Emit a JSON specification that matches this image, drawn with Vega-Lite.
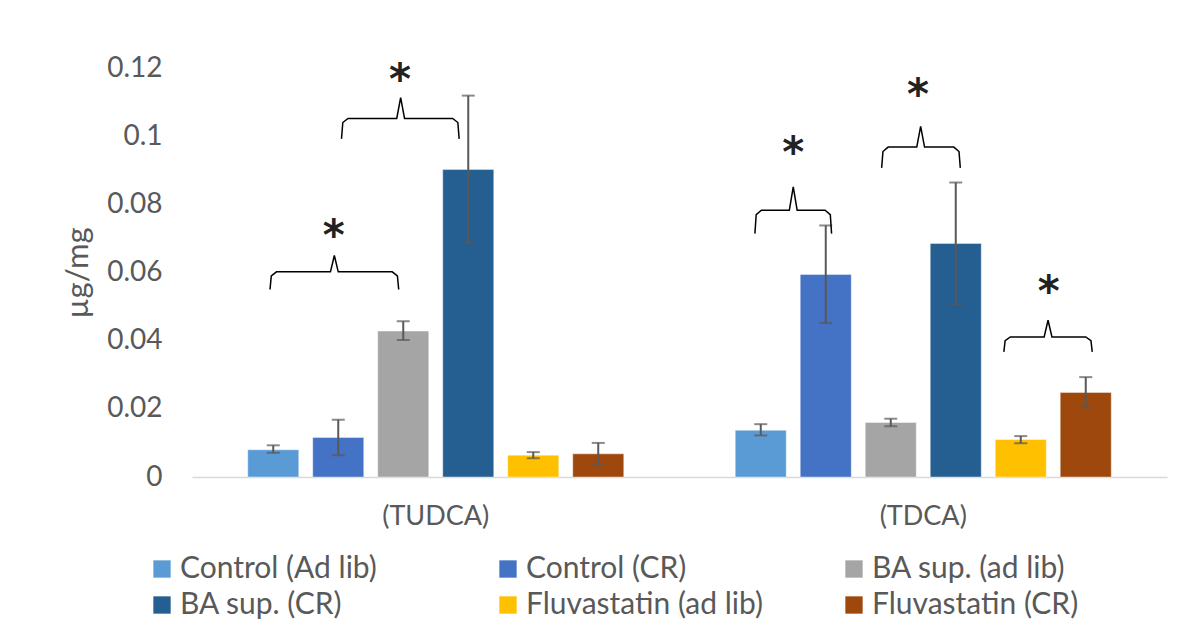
{
  "$schema": "https://vega.github.io/schema/vega-lite/v6.json",
  "autosize": "none",
  "padding": {"left": 192, "top": 68, "right": 33, "bottom": 148},
  "width": 975,
  "height": 409,
  "background": "white",
  "config": {
    "view": {"stroke": null},
    "font": "Lato",
    "axis": {"labelFont": "Lato", "titleFont": "Lato", "labelColor": "#595959", "titleColor": "#595959"},
    "legend": {"labelFont": "Lato"}
  },
  "datasets": {
    "bars": [
      {"group": "(TUDCA)", "series": "Control (Ad lib)", "mean": 0.0080, "lo": 0.0071, "hi": 0.0093},
      {"group": "(TUDCA)", "series": "Control (CR)", "mean": 0.0116, "lo": 0.0064, "hi": 0.0168},
      {"group": "(TUDCA)", "series": "BA sup. (ad lib)", "mean": 0.0428, "lo": 0.0402, "hi": 0.0457},
      {"group": "(TUDCA)", "series": "BA sup. (CR)", "mean": 0.0902, "lo": 0.0686, "hi": 0.1119},
      {"group": "(TUDCA)", "series": "Fluvastatin (ad lib)", "mean": 0.0064, "lo": 0.0055, "hi": 0.0073},
      {"group": "(TUDCA)", "series": "Fluvastatin (CR)", "mean": 0.0068, "lo": 0.0037, "hi": 0.0100},
      {"group": "(TDCA)", "series": "Control (Ad lib)", "mean": 0.0137, "lo": 0.0122, "hi": 0.0155},
      {"group": "(TDCA)", "series": "Control (CR)", "mean": 0.0594, "lo": 0.0452, "hi": 0.0738},
      {"group": "(TDCA)", "series": "BA sup. (ad lib)", "mean": 0.0160, "lo": 0.0149, "hi": 0.0171},
      {"group": "(TDCA)", "series": "BA sup. (CR)", "mean": 0.0685, "lo": 0.0507, "hi": 0.0864},
      {"group": "(TDCA)", "series": "Fluvastatin (ad lib)", "mean": 0.0110, "lo": 0.0099, "hi": 0.0120},
      {"group": "(TDCA)", "series": "Fluvastatin (CR)", "mean": 0.0248, "lo": 0.0205, "hi": 0.0293}
    ],
    "brackets": [
      {"group": "(TUDCA)", "b": "t1", "i": 0, "pos": -0.05, "y": 0.0550},
      {"group": "(TUDCA)", "b": "t1", "i": 1, "pos": -0.03, "y": 0.0590},
      {"group": "(TUDCA)", "b": "t1", "i": 2, "pos": 0.05, "y": 0.0602},
      {"group": "(TUDCA)", "b": "t1", "i": 3, "pos": 0.88, "y": 0.0602},
      {"group": "(TUDCA)", "b": "t1", "i": 4, "pos": 0.94, "y": 0.0650},
      {"group": "(TUDCA)", "b": "t1", "i": 5, "pos": 1.00, "y": 0.0602},
      {"group": "(TUDCA)", "b": "t1", "i": 6, "pos": 1.83, "y": 0.0602},
      {"group": "(TUDCA)", "b": "t1", "i": 7, "pos": 1.91, "y": 0.0590},
      {"group": "(TUDCA)", "b": "t1", "i": 8, "pos": 1.93, "y": 0.0550},
      {"group": "(TUDCA)", "b": "t2", "i": 0, "pos": 1.05, "y": 0.0992},
      {"group": "(TUDCA)", "b": "t2", "i": 1, "pos": 1.07, "y": 0.1040},
      {"group": "(TUDCA)", "b": "t2", "i": 2, "pos": 1.15, "y": 0.1052},
      {"group": "(TUDCA)", "b": "t2", "i": 3, "pos": 1.90, "y": 0.1052},
      {"group": "(TUDCA)", "b": "t2", "i": 4, "pos": 1.96, "y": 0.1113},
      {"group": "(TUDCA)", "b": "t2", "i": 5, "pos": 2.02, "y": 0.1052},
      {"group": "(TUDCA)", "b": "t2", "i": 6, "pos": 2.76, "y": 0.1052},
      {"group": "(TUDCA)", "b": "t2", "i": 7, "pos": 2.84, "y": 0.1040},
      {"group": "(TUDCA)", "b": "t2", "i": 8, "pos": 2.86, "y": 0.0992},
      {"group": "(TDCA)", "b": "d1", "i": 0, "pos": -0.09, "y": 0.0714},
      {"group": "(TDCA)", "b": "d1", "i": 1, "pos": -0.07, "y": 0.0770},
      {"group": "(TDCA)", "b": "d1", "i": 2, "pos": 0.01, "y": 0.0783},
      {"group": "(TDCA)", "b": "d1", "i": 3, "pos": 0.44, "y": 0.0783},
      {"group": "(TDCA)", "b": "d1", "i": 4, "pos": 0.50, "y": 0.0851},
      {"group": "(TDCA)", "b": "d1", "i": 5, "pos": 0.56, "y": 0.0783},
      {"group": "(TDCA)", "b": "d1", "i": 6, "pos": 0.99, "y": 0.0783},
      {"group": "(TDCA)", "b": "d1", "i": 7, "pos": 1.07, "y": 0.0770},
      {"group": "(TDCA)", "b": "d1", "i": 8, "pos": 1.09, "y": 0.0714},
      {"group": "(TDCA)", "b": "d2", "i": 0, "pos": 1.86, "y": 0.0907},
      {"group": "(TDCA)", "b": "d2", "i": 1, "pos": 1.88, "y": 0.0955},
      {"group": "(TDCA)", "b": "d2", "i": 2, "pos": 1.96, "y": 0.0968},
      {"group": "(TDCA)", "b": "d2", "i": 3, "pos": 2.40, "y": 0.0968},
      {"group": "(TDCA)", "b": "d2", "i": 4, "pos": 2.46, "y": 0.1029},
      {"group": "(TDCA)", "b": "d2", "i": 5, "pos": 2.52, "y": 0.0968},
      {"group": "(TDCA)", "b": "d2", "i": 6, "pos": 2.97, "y": 0.0968},
      {"group": "(TDCA)", "b": "d2", "i": 7, "pos": 3.05, "y": 0.0955},
      {"group": "(TDCA)", "b": "d2", "i": 8, "pos": 3.07, "y": 0.0907},
      {"group": "(TDCA)", "b": "d3", "i": 0, "pos": 3.74, "y": 0.0367},
      {"group": "(TDCA)", "b": "d3", "i": 1, "pos": 3.76, "y": 0.0400},
      {"group": "(TDCA)", "b": "d3", "i": 2, "pos": 3.84, "y": 0.0411},
      {"group": "(TDCA)", "b": "d3", "i": 3, "pos": 4.36, "y": 0.0411},
      {"group": "(TDCA)", "b": "d3", "i": 4, "pos": 4.42, "y": 0.0460},
      {"group": "(TDCA)", "b": "d3", "i": 5, "pos": 4.48, "y": 0.0411},
      {"group": "(TDCA)", "b": "d3", "i": 6, "pos": 5.00, "y": 0.0411},
      {"group": "(TDCA)", "b": "d3", "i": 7, "pos": 5.08, "y": 0.0400},
      {"group": "(TDCA)", "b": "d3", "i": 8, "pos": 5.10, "y": 0.0367}
    ],
    "stars": [
      {"group": "(TUDCA)", "pos": 0.93, "y": 0.0727, "label": "*"},
      {"group": "(TUDCA)", "pos": 1.95, "y": 0.1184, "label": "*"},
      {"group": "(TDCA)", "pos": 0.50, "y": 0.0970, "label": "*"},
      {"group": "(TDCA)", "pos": 2.42, "y": 0.1140, "label": "*"},
      {"group": "(TDCA)", "pos": 4.43, "y": 0.0562, "label": "*"}
    ]
  },
  "resolve": {"scale": {"xOffset": "independent"}},
  "layer": [
    {
      "data": {"name": "bars"},
      "mark": {"type": "bar", "stroke": "white", "strokeWidth": 1, "strokeOpacity": 0.4},
      "encoding": {
        "x": {"field": "group", "type": "nominal", "sort": ["(TUDCA)", "(TDCA)"],
              "scale": {"paddingInner": 0.2, "paddingOuter": 0.1},
              "axis": {"title": null, "labelAngle": 0, "ticks": false, "domainColor": "#D9D9D9", "domainWidth": 1.5,
                       "labelFontSize": 27, "labelPadding": 26}},
        "xOffset": {"field": "series", "type": "nominal",
                    "sort": ["Control (Ad lib)", "Control (CR)", "BA sup. (ad lib)", "BA sup. (CR)", "Fluvastatin (ad lib)", "Fluvastatin (CR)"],
                    "scale": {"paddingInner": 0.215, "paddingOuter": 0.1075}},
        "y": {"field": "mean", "type": "quantitative",
              "scale": {"domain": [0, 0.12], "nice": false},
              "axis": {"title": "µg/mg", "values": [0, 0.02, 0.04, 0.06, 0.08, 0.1, 0.12], "grid": false, "domain": false, "ticks": false,
                       "labelFontSize": 28, "labelPadding": 30, "titleFontSize": 31, "titleFontWeight": "normal", "titlePadding": 12,
                       "labelExpr": "datum.value === 0 ? '0' : format(datum.value, '.2~f')"}},
        "color": {"field": "series", "type": "nominal",
                  "scale": {"domain": ["Control (Ad lib)", "Control (CR)", "BA sup. (ad lib)", "BA sup. (CR)", "Fluvastatin (ad lib)", "Fluvastatin (CR)"],
                            "range": ["#5B9BD5", "#4472C4", "#A5A5A5", "#255E91", "#FFC000", "#9E480E"]},
                  "legend": {"title": null, "orient": "none", "legendX": -45, "legendY": 486, "direction": "horizontal", "columns": 3,
                             "gridAlign": "all", "columnPadding": 76, "rowPadding": 6, "symbolType": "square", "symbolSize": 300,
                             "symbolStrokeWidth": 0, "labelFontSize": 30, "labelColor": "#595959", "labelLimit": 400, "labelOffset": 3}}
      }
    },
    {
      "data": {"name": "bars"},
      "mark": {"type": "rule", "color": "#595959", "strokeWidth": 2},
      "encoding": {
        "x": {"field": "group", "type": "nominal", "sort": ["(TUDCA)", "(TDCA)"]},
        "xOffset": {"field": "series", "type": "nominal",
                    "sort": ["Control (Ad lib)", "Control (CR)", "BA sup. (ad lib)", "BA sup. (CR)", "Fluvastatin (ad lib)", "Fluvastatin (CR)"]},
        "y": {"field": "lo", "type": "quantitative"},
        "y2": {"field": "hi"}
      }
    },
    {
      "data": {"name": "bars"},
      "mark": {"type": "tick", "color": "#595959", "thickness": 2, "size": 13},
      "encoding": {
        "x": {"field": "group", "type": "nominal", "sort": ["(TUDCA)", "(TDCA)"]},
        "xOffset": {"field": "series", "type": "nominal",
                    "sort": ["Control (Ad lib)", "Control (CR)", "BA sup. (ad lib)", "BA sup. (CR)", "Fluvastatin (ad lib)", "Fluvastatin (CR)"]},
        "y": {"field": "lo", "type": "quantitative"}
      }
    },
    {
      "data": {"name": "bars"},
      "mark": {"type": "tick", "color": "#595959", "thickness": 2, "size": 13},
      "encoding": {
        "x": {"field": "group", "type": "nominal", "sort": ["(TUDCA)", "(TDCA)"]},
        "xOffset": {"field": "series", "type": "nominal",
                    "sort": ["Control (Ad lib)", "Control (CR)", "BA sup. (ad lib)", "BA sup. (CR)", "Fluvastatin (ad lib)", "Fluvastatin (CR)"]},
        "y": {"field": "hi", "type": "quantitative"}
      }
    },
    {
      "data": {"name": "brackets"},
      "mark": {"type": "line", "color": "#000000", "strokeWidth": 1.5},
      "encoding": {
        "x": {"field": "group", "type": "nominal", "sort": ["(TUDCA)", "(TDCA)"]},
        "xOffset": {"field": "pos", "type": "quantitative", "scale": {"domain": [-0.5, 5.5], "nice": false, "zero": false}},
        "y": {"field": "y", "type": "quantitative"},
        "detail": {"field": "b"},
        "order": {"field": "i"}
      }
    },
    {
      "data": {"name": "stars"},
      "mark": {"type": "text", "font": "DejaVu Sans", "fontSize": 42, "fontWeight": "bold", "color": "#222222", "baseline": "middle", "dy": 8},
      "encoding": {
        "x": {"field": "group", "type": "nominal", "sort": ["(TUDCA)", "(TDCA)"]},
        "xOffset": {"field": "pos", "type": "quantitative", "scale": {"domain": [-0.5, 5.5], "nice": false, "zero": false}},
        "y": {"field": "y", "type": "quantitative"},
        "text": {"field": "label"}
      }
    }
  ]
}
